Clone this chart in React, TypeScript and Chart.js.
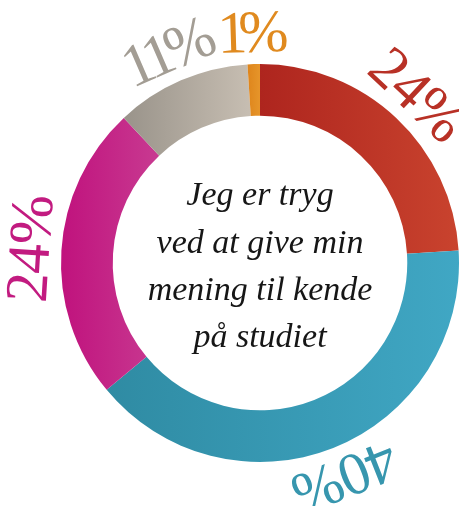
import React, { useEffect, useRef } from "react";
import { Chart, registerables } from "chart.js";

Chart.register(...registerables);

const categories = ["Enig", "Meget enig", "Hverken/eller", "Uenig", "Meget uenig"];
const values = [24, 40, 24, 11, 1];
const labels = ["24%", "40%", "24%", "11%", "1%"];
const centerLines = ["Jeg er tryg", "ved at give min", "mening til kende", "på studiet"];
const gradLeft = ["#ae251e", "#2f8ba3", "#c0127d", "#99938a", "#de851c"];
const gradRight = ["#c9432e", "#40a7c4", "#c83a91", "#c7beb2", "#e6952a"];
const labelColors = ["#b83126", "#3796ae", "#c21b80", "#a39d94", "#e08a1f"];
const labelSpacing = [-1, -1, -1, -6, -9];

const CUTOUT = 0.74;
const SERIF = "'Liberation Serif', 'Times New Roman', Times, serif";

function arcXExtent(cx: number, a0: number, a1: number, R: number, r: number) {
  const xs: number[] = [];
  for (const a of [a0, a1]) {
    xs.push(cx + R * Math.cos(a), cx + r * Math.cos(a));
  }
  for (let k = -4; k <= 4; k++) {
    const a = k * Math.PI;
    if (a > a0 && a < a1) xs.push(cx + R * Math.cos(a));
  }
  return [Math.min(...xs), Math.max(...xs)];
}

const labelPlugin = {
  id: "labelPlugin",
  afterDatasetsDraw(chart: any) {
    const ctx = chart.ctx as CanvasRenderingContext2D;
    const meta = chart.getDatasetMeta(0);
    meta.data.forEach((arc: any, i: number) => {
      const { x, y, startAngle, endAngle, outerRadius } = arc.getProps(
        ["x", "y", "startAngle", "endAngle", "outerRadius"],
        true
      );
      const mid = (startAngle + endAngle) / 2;
      const rr = outerRadius + 28;
      const lx = x + rr * Math.cos(mid);
      const ly = y + rr * Math.sin(mid);
      ctx.save();
      ctx.translate(lx, ly);
      ctx.rotate(mid + Math.PI / 2);
      ctx.fillStyle = labelColors[i];
      ctx.font = "60px " + SERIF;
      (ctx as any).letterSpacing = labelSpacing[i] + "px";
      ctx.textAlign = "center";
      ctx.textBaseline = "middle";
      ctx.fillText(labels[i], labelSpacing[i] / 2, 0);
      ctx.restore();
    });
    const a0: any = meta.data[0];
    const cx = a0.x;
    const cy = a0.y;
    ctx.save();
    ctx.fillStyle = "#161616";
    ctx.font = "italic 34px " + SERIF;
    ctx.textAlign = "center";
    ctx.textBaseline = "alphabetic";
    const offs = [-58, -10, 37, 84];
    centerLines.forEach((t, i) => ctx.fillText(t, cx, cy + offs[i]));
    ctx.restore();
  },
};

export default function App() {
  const ref = useRef<HTMLCanvasElement>(null);
  useEffect(() => {
    if (!ref.current) return;
    const chart = new Chart(ref.current, {
      type: "doughnut",
      data: {
        labels: categories,
        datasets: [
          {
            data: values,
            borderWidth: 0,
            backgroundColor: (context: any) => {
              const ch = context.chart;
              const area = ch.chartArea;
              const i = context.dataIndex;
              if (!area || i === undefined) return gradLeft[i ?? 0];
              const cx = (area.left + area.right) / 2;
              const R = Math.min(area.right - area.left, area.bottom - area.top) / 2;
              const r = R * CUTOUT;
              const total = values.reduce((s, v) => s + v, 0);
              let cum = 0;
              for (let k = 0; k < i; k++) cum += values[k];
              const s = -Math.PI / 2 + (cum / total) * 2 * Math.PI;
              const e = s + (values[i] / total) * 2 * Math.PI;
              const [x0, x1] = arcXExtent(cx, s, e, R, r);
              const g = ch.ctx.createLinearGradient(x0, 0, x1, 0);
              g.addColorStop(0, gradLeft[i]);
              g.addColorStop(1, gradRight[i]);
              return g;
            },
          },
        ],
      },
      options: {
        animation: false,
        responsive: false,
        cutout: CUTOUT * 100 + "%",
        layout: { padding: { left: 61, top: 64, right: 0, bottom: 44 } },
        plugins: { legend: { display: false }, tooltip: { enabled: false } },
        events: [],
      },
      plugins: [labelPlugin],
    });
    return () => chart.destroy();
  }, []);
  return (
    <div style={{ position: "absolute", left: 0, top: 0, width: 459, height: 506, background: "#fff" }}>
      <canvas ref={ref} width={459} height={506} style={{ width: 459, height: 506 }} />
    </div>
  );
}
